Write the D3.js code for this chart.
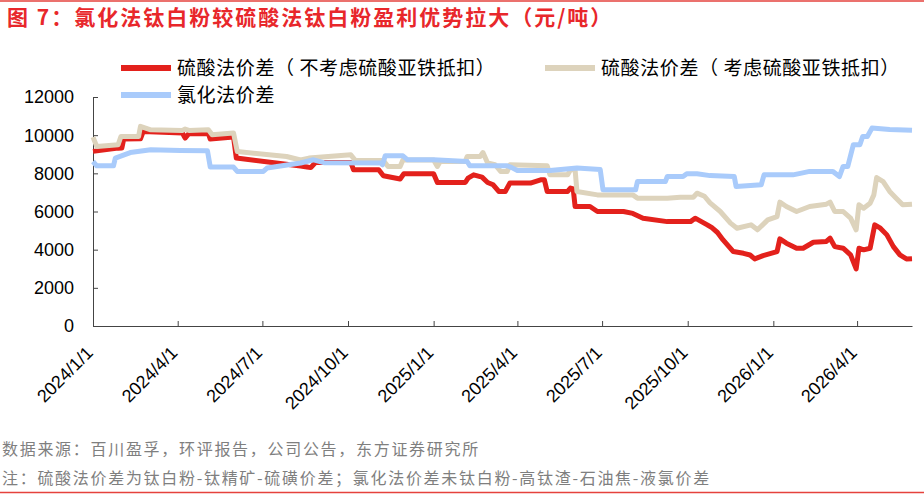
<!DOCTYPE html>
<html>
<head>
<meta charset="utf-8">
<script src="https://cdn.jsdelivr.net/npm/d3@7"></script>
<style>
	body { margin: 0; background: #fff; }
	svg { display: block; }
	.cn { font-family: "Noto Sans CJK SC", "Noto Sans", sans-serif; }
	.num { font-family: "Liberation Sans", Arial, sans-serif; }
</style>
</head>
<body>
<div id="svg_container"></div>
<script>

/* -----------------------
data
------------------------- */

var seriesNames = ['硫酸法价差（ 不考虑硫酸亚铁抵扣）', '硫酸法价差（ 考虑硫酸亚铁抵扣）', '氯化法价差'];

var redDates = ['2024-01-01','2024-01-28','2024-02-01','2024-02-03','2024-02-21','2024-02-24','2024-04-06','2024-04-09','2024-04-13','2024-05-04','2024-05-06','2024-05-31','2024-06-03','2024-08-11','2024-08-18','2024-08-22','2024-08-27','2024-10-04','2024-10-07','2024-11-03','2024-11-08','2024-11-26','2024-11-30','2025-01-01','2025-01-05','2025-02-04','2025-02-07','2025-02-13','2025-02-22','2025-02-28','2025-03-06','2025-03-12','2025-03-19','2025-03-24','2025-04-15','2025-04-26','2025-04-30','2025-05-03','2025-05-25','2025-05-28','2025-05-31','2025-06-02','2025-06-18','2025-06-26','2025-07-24','2025-08-03','2025-08-14','2025-09-09','2025-10-04','2025-10-09','2025-10-22','2025-10-27','2025-11-02','2025-11-08','2025-11-19','2025-11-30','2025-12-07','2025-12-12','2025-12-21','2026-01-05','2026-01-08','2026-01-15','2026-01-26','2026-02-02','2026-02-13','2026-02-27','2026-03-03','2026-03-08','2026-03-17','2026-03-25','2026-03-31','2026-04-03','2026-04-08','2026-04-15','2026-04-20','2026-04-26','2026-05-03','2026-05-10','2026-05-17','2026-05-24','2026-05-30'];
var redValues = [9150,9320,9330,9795,9810,10195,10110,9850,10080,10080,9795,9900,8800,8380,8330,8300,8570,8570,8185,8185,7870,7700,7975,7975,7520,7520,7750,7920,7800,7520,7400,7050,7050,7490,7490,7660,7660,7050,7050,7225,7180,6260,6260,6000,6000,5900,5650,5470,5470,5650,5300,5150,4900,4510,3900,3810,3720,3515,3690,3900,4565,4340,4075,4075,4390,4430,4600,4160,4075,3725,2990,4075,3990,4075,5300,5125,4775,4160,3725,3515,3530];

var tanDates = ['2024-01-01','2024-01-05','2024-01-28','2024-01-31','2024-02-19','2024-02-21','2024-03-03','2024-04-06','2024-04-09','2024-04-13','2024-05-04','2024-05-08','2024-05-31','2024-06-04','2024-07-27','2024-08-11','2024-08-20','2024-10-04','2024-10-09','2024-11-08','2024-11-13','2024-11-26','2024-11-29','2025-01-01','2025-01-05','2025-01-08','2025-02-04','2025-02-06','2025-02-20','2025-02-23','2025-02-28','2025-03-08','2025-03-14','2025-03-21','2025-03-24','2025-05-03','2025-05-06','2025-05-25','2025-05-28','2025-06-02','2025-06-04','2025-06-26','2025-08-03','2025-08-08','2025-09-09','2025-09-23','2025-10-07','2025-10-11','2025-10-19','2025-10-25','2025-11-05','2025-11-16','2025-11-23','2025-12-08','2025-12-15','2025-12-26','2026-01-05','2026-01-08','2026-01-15','2026-01-26','2026-02-09','2026-02-27','2026-03-03','2026-03-08','2026-03-17','2026-03-25','2026-03-31','2026-04-03','2026-04-08','2026-04-15','2026-04-19','2026-04-22','2026-04-29','2026-05-06','2026-05-13','2026-05-20','2026-05-30'];
var tanValues = [9900,9410,9500,9930,9930,10460,10280,10250,10320,10250,10280,10020,10110,9145,8880,8700,8800,8970,8670,8670,8360,8360,8700,8700,8360,8620,8620,8880,8880,9090,8540,8450,8100,8100,8450,8400,7920,7920,8185,8185,7050,6870,6870,6700,6700,6750,6750,6960,6800,6450,6000,5390,5125,5300,5040,5560,5735,6490,6260,6000,6260,6385,6490,6000,6000,5650,5040,6350,6170,6435,6870,7780,7570,7050,6700,6350,6385];

var blueDates = ['2024-01-01','2024-01-05','2024-01-23','2024-01-25','2024-02-10','2024-03-03','2024-04-04','2024-05-03','2024-05-06','2024-05-31','2024-06-04','2024-07-02','2024-07-06','2024-08-11','2024-08-25','2024-09-05','2024-11-05','2024-11-07','2024-11-10','2024-11-29','2024-12-04','2025-01-01','2025-02-06','2025-02-09','2025-03-21','2025-03-26','2025-04-01','2025-05-06','2025-06-04','2025-06-29','2025-07-02','2025-08-06','2025-08-08','2025-09-07','2025-09-09','2025-09-26','2025-09-30','2025-10-11','2025-10-25','2025-11-20','2025-11-22','2025-12-19','2025-12-22','2026-01-22','2026-01-30','2026-02-09','2026-03-06','2026-03-13','2026-03-17','2026-03-22','2026-03-28','2026-04-04','2026-04-07','2026-04-12','2026-04-17','2026-05-06','2026-05-30'];
var blueValues = [8620,8395,8395,8800,9090,9235,9200,9180,8330,8330,8100,8100,8275,8540,8710,8560,8540,8450,8920,8920,8710,8710,8620,8395,8395,8300,8150,8150,8275,8200,7135,7135,7570,7570,7830,7830,7975,7975,7880,7830,7310,7400,7920,7920,8000,8100,8100,7830,8360,8360,9500,9500,9930,9930,10370,10300,10260];

var yTicks = [0, 2000, 4000, 6000, 8000, 10000, 12000];
var colors = ['#e3211c', '#ddd3bc', '#a9cbfb'];

/* -----------------------
main variables
------------------------- */

var width = 924;
var height = 498;
var plotLeft = 93, plotRight = 912, plotTop = 97, plotBottom = 326;

var parse = d3.timeParse('%Y-%m-%d');
var fmt = d3.timeFormat('%Y/%-m/%-d');

var svg = d3.select('#svg_container')
	.append('svg')
	.attr('width', width)
	.attr('height', height)
	.attr('viewBox', '0 0 ' + width + ' ' + height);

var x = d3.scaleTime()
	.domain([parse('2024-01-01'), parse('2026-05-30')])
	.range([plotLeft, plotRight]);

var y = d3.scaleLinear()
	.domain([0, 12000])
	.range([plotBottom, plotTop]);

/* -----------------------
title + rules
------------------------- */

svg.append('line')
	.attr('x1', 0).attr('x2', width)
	.attr('y1', 1).attr('y2', 1)
	.attr('stroke', '#e5423c').attr('stroke-width', 1.5);

svg.append('text')
	.attr('class', 'cn')
	.attr('x', 7)
	.attr('y', 25)
	.attr('fill', '#e8272b')
	.style('font-size', '21px')
	.style('font-weight', 'bold')
	.style('letter-spacing', '2px')
	.text('图 7：氯化法钛白粉较硫酸法钛白粉盈利优势拉大（元/吨）');

/* -----------------------
axes
------------------------- */

var yAxis = svg.append('g')
	.attr('transform', 'translate(' + plotLeft + ',0)')
	.call(d3.axisRight(y).tickValues(yTicks).tickSize(5).tickFormat(''));
yAxis.selectAll('line, path').attr('stroke', '#444');

svg.selectAll('.ylab')
	.data(yTicks)
	.enter()
	.append('text')
	.attr('class', 'ylab num')
	.attr('x', 74)
	.attr('y', function (d) { return y(d); })
	.attr('dy', '.36em')
	.attr('text-anchor', 'end')
	.style('font-size', '18px')
	.attr('fill', '#000')
	.text(function (d) { return d; });

var xTicks = d3.timeMonth.every(3).range(parse('2024-01-01'), parse('2026-05-30'));

var xAxis = svg.append('g')
	.attr('transform', 'translate(0,' + plotBottom + ')')
	.call(d3.axisTop(x).tickValues(xTicks).tickSize(5).tickFormat('').tickSizeOuter(0));
xAxis.selectAll('line, path').attr('stroke', '#444');

svg.selectAll('.xlab')
	.data(xTicks)
	.enter()
	.append('text')
	.attr('class', 'xlab num')
	.attr('text-anchor', 'end')
	.attr('transform', function (d) {
		return 'translate(' + (x(d) + 1) + ',' + 354 + ') rotate(-45)';
	})
	.style('font-size', '18px')
	.attr('fill', '#000')
	.text(function (d) { return fmt(d); });

/* -----------------------
lines
------------------------- */

var line = d3.line()
	.x(function (d) { return x(d[0]); })
	.y(function (d) { return y(d[1]); });

var series = [
	d3.zip(redDates.map(parse), redValues),
	d3.zip(tanDates.map(parse), tanValues),
	d3.zip(blueDates.map(parse), blueValues)
];

svg.selectAll('.series')
	.data(series)
	.enter()
	.append('path')
	.attr('class', 'series')
	.attr('d', line)
	.attr('fill', 'none')
	.attr('stroke', function (d, i) { return colors[i]; })
	.attr('stroke-width', 5)
	.attr('stroke-linejoin', 'round');

/* -----------------------
legend
------------------------- */

var legendPos = [[121, 68], [545, 68], [121, 95]];

var legend = svg.selectAll('.legend')
	.data(seriesNames)
	.enter()
	.append('g')
	.attr('class', 'legend')
	.attr('transform', function (d, i) {
		return 'translate(' + legendPos[i][0] + ',' + legendPos[i][1] + ')';
	});

legend.append('line')
	.attr('x1', 0).attr('x2', 50)
	.attr('stroke', function (d, i) { return colors[i]; })
	.attr('stroke-width', 6);

legend.append('text')
	.attr('class', 'cn')
	.attr('x', 56)
	.attr('dy', '.35em')
	.style('font-size', '19px')
	.style('letter-spacing', '0.6px')
	.attr('fill', '#000')
	.text(function (d) { return d; });

/* -----------------------
footer
------------------------- */

var notes = ['数据来源：百川盈孚，环评报告，公司公告，东方证券研究所', '注：硫酸法价差为钛白粉-钛精矿-硫磺价差；氯化法价差未钛白粉-高钛渣-石油焦-液氯价差'];

svg.selectAll('.note')
	.data(notes)
	.enter()
	.append('text')
	.attr('class', 'note cn')
	.attr('x', 2)
	.attr('y', function (d, i) { return 455 + i * 29; })
	.style('font-size', '16px')
	.style('letter-spacing', '1.7px')
	.attr('fill', '#7f7f7f')
	.text(function (d) { return d; });

svg.append('line')
	.attr('x1', 0).attr('x2', width)
	.attr('y1', 492.5).attr('y2', 492.5)
	.attr('stroke', '#e5423c').attr('stroke-width', 1.5);

</script>
</body>
</html>
